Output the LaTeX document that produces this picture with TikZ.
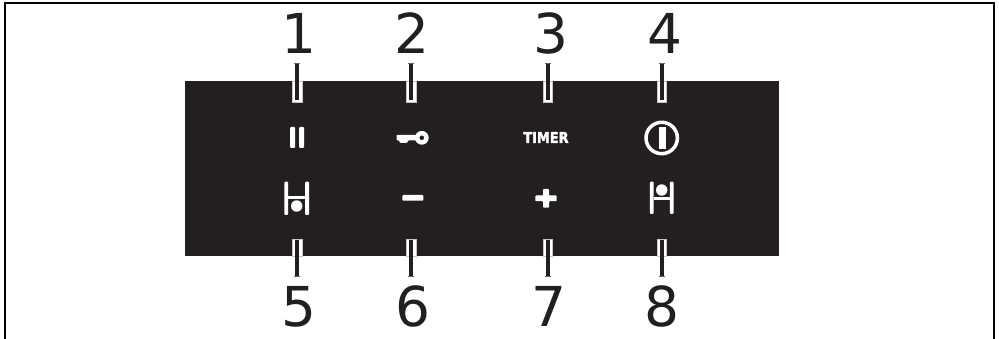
\documentclass[tikz,border=0pt]{standalone}
\usepackage{fontspec}
\setmainfont{DejaVu Sans}
\newfontfamily\timerfont[FakeBold=2.5]{DejaVu Sans Bold}
\definecolor{panel}{HTML}{231F20}
\tikzset{
  num/.style={font=\fontsize{55}{55}\selectfont, text=panel, inner sep=0pt, anchor=base},
  leadline/.style={draw=panel, line width=3.7pt},
  leadcap/.style={draw=panel!70, line width=1pt},
  sleeve/.style={draw=panel!25, line width=0.7pt, fill=white},
  glyph/.style={fill=white, draw=none},
  ring/.style={draw=white, fill=none},
  frame/.style={draw=black, line width=2pt}
}
\newcommand{\upmark}[3]{%
  \path[sleeve] (#1-4.6,81) rectangle (#1+4.6,102);
  \coordinate (t#2a) at (#1,63);
  \coordinate (t#2b) at (#1,100.5);
  \draw[leadline] (t#2a) -- (t#2b);
  \draw[leadcap] (#1-3,63.3) -- (#1+3,63.3);
  \node[num] (n#2) at (#3,54) {#2};
}
\newcommand{\downmark}[3]{%
  \path[sleeve] (#1-4.6,239) rectangle (#1+4.6,256);
  \coordinate (b#2a) at (#1,277);
  \coordinate (b#2b) at (#1,240.5);
  \draw[leadline] (b#2a) -- (b#2b);
  \draw[leadcap] (#1-3,276.7) -- (#1+3,276.7);
  \node[num] (n#2) at (#3,326) {#2};
}
\begin{document}
\begin{tikzpicture}[x=1pt,y=-1pt]
\useasboundingbox (0,0) rectangle (999,339);
\draw[frame] (5,339) -- (5,3) -- (994,3) -- (994,339);
\path[fill=panel] (185,81) rectangle (779,256);
\upmark{297.3}{1}{299}
\upmark{411.3}{2}{412}
\upmark{547.7}{3}{551}
\upmark{661.7}{4}{665}
\downmark{297.3}{5}{299}
\downmark{411.3}{6}{413}
\downmark{547.7}{7}{549}
\downmark{661.7}{8}{662}
% pause
\path[glyph,rounded corners=1pt] (290,127) rectangle (295,148);
\path[glyph,rounded corners=1pt] (299,127) rectangle (304,148);
% key
\path[glyph,even odd rule] (421.8,137.8) circle[radius=6.9] (421.8,137.8) circle[radius=2.4];
\path[glyph,rounded corners=0.6pt] (396.7,134.8) -- (416,134.8) -- (416,140.3) -- (408.5,140.3) -- (407,142.8) -- (400,142.8) -- (398.8,140.3) -- (396.7,140.3) -- cycle;
% timer
\node[inner sep=0pt, text=white, font=\timerfont\fontsize{15}{15}\selectfont, xscale=0.86] (timer) at (546,137.5) {TIMER};
% power
\path[ring,line width=3.5pt] (661.7,138) circle[radius=15.7];
\path[glyph] (658.7,127) rectangle (666,149);
% stand 5
\path[glyph,rounded corners=1pt] (284.3,181.7) rectangle (288.2,215);
\path[glyph,rounded corners=1pt] (305.2,181.7) rectangle (309.1,215);
\path[glyph] (288,196) rectangle (305.5,199);
\path[glyph] (296.7,206) circle[radius=5.7];
% minus
\path[glyph,rounded corners=1pt] (402.3,195) rectangle (423.3,200.7);
% plus
\path[glyph,rounded corners=0.8pt] (535.3,195.5) -- (543,195.5) -- (543,189) -- (549,189) -- (549,195.5) -- (556.7,195.5) -- (556.7,201.2) -- (549,201.2) -- (549,207.7) -- (543,207.7) -- (543,201.2) -- (535.3,201.2) -- cycle;
% stand 8
\path[glyph,rounded corners=1pt] (649.8,181.7) rectangle (653.7,214);
\path[glyph,rounded corners=1pt] (669.8,181.7) rectangle (673.6,214);
\path[glyph] (653.5,197.5) rectangle (670,200.5);
\path[glyph] (661.7,190) circle[radius=5.7];
\end{tikzpicture}
\end{document}
